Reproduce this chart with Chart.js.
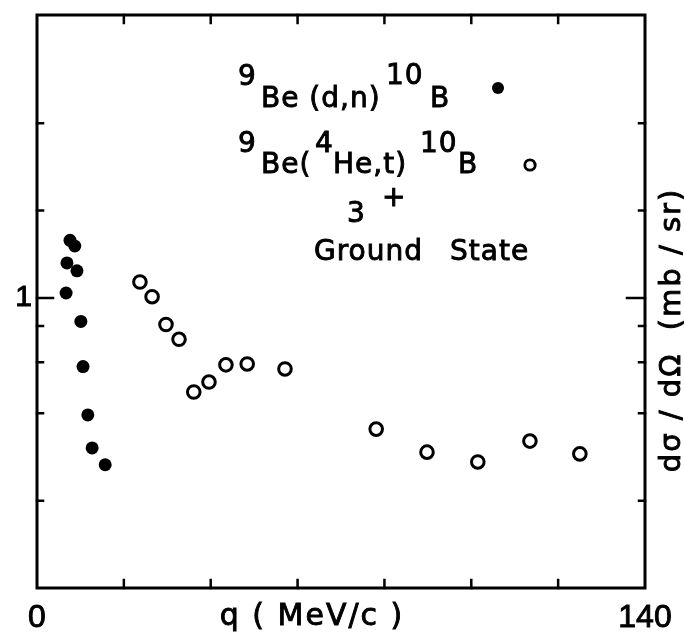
<!DOCTYPE html>
<html>
<head>
<meta charset="utf-8">
<script src="https://cdn.jsdelivr.net/npm/chart.js@4.4.0/dist/chart.umd.min.js"></script>
<style>
  body { margin: 0; background: #fff; }
  #wrap { width: 684px; height: 632px; }
</style>
</head>
<body>
<div id="wrap"><canvas id="grafik" width="684" height="632"></canvas></div>
<script>
// 9Be(d,n)10B, filled circles
const dnQ = [6.7, 6.9, 7.6, 8.7, 9.2, 10.1, 10.6, 11.7, 12.7, 15.7];
const dnSigma = [1.04, 1.32, 1.58, 1.51, 1.24, 0.83, 0.58, 0.395, 0.304, 0.266];

// 9Be(4He,t)10B, open circles
const heQ = [23.7, 26.5, 29.7, 32.7, 36.1, 39.6, 43.5, 48.4, 57.1, 78.1, 89.8, 101.5, 113.5, 125.0];
const heSigma = [1.135, 1.01, 0.81, 0.72, 0.474, 0.513, 0.588, 0.592, 0.569, 0.353, 0.294, 0.272, 0.321, 0.29];

// axes
const xTickValues = [0, 140];
const xTickLabels = ["0", "140"];
const xMarks = [20, 40, 60, 80, 100, 120];
const yTickValues = [1];
const yTickLabels = ["1"];
const yMinorMarks = [0.2, 0.4, 0.6, 0.8, 2, 4];
const yMajorMarks = [1];

const toPoints = (xs, ys) => xs.map((x, i) => ({ x: x, y: ys[i] }));

const ink = "#000";

// lettering is heavier than the plain font, so outline it a little
function put(ctx, s, x, y, font, align) {
  ctx.font = font;
  ctx.textAlign = align || "left";
  ctx.fillText(s, x, y);
  ctx.lineWidth = 0.9;
  ctx.strokeText(s, x, y);
}

const frame = {
  id: "frame",
  afterDraw(chart) {
    const ctx = chart.ctx;
    const a = chart.chartArea;
    const xs = chart.scales.x;
    const ys = chart.scales.y;
    ctx.save();
    ctx.strokeStyle = ink;
    ctx.fillStyle = ink;
    ctx.lineCap = "square";

    // box
    ctx.lineWidth = 3;
    ctx.strokeRect(a.left, a.top, a.right - a.left, a.bottom - a.top);

    // inward tick marks
    ctx.lineWidth = 2.5;
    ctx.beginPath();
    xMarks.forEach((v) => {
      const px = xs.getPixelForValue(v);
      ctx.moveTo(px, a.bottom);
      ctx.lineTo(px, a.bottom - 8);
      ctx.moveTo(px, a.top);
      ctx.lineTo(px, a.top + 8);
    });
    yMinorMarks.forEach((v) => {
      const py = ys.getPixelForValue(v);
      ctx.moveTo(a.left, py);
      ctx.lineTo(a.left + 6, py);
      ctx.moveTo(a.right, py);
      ctx.lineTo(a.right - 6, py);
    });
    yMajorMarks.forEach((v) => {
      const py = ys.getPixelForValue(v);
      ctx.moveTo(a.left, py);
      ctx.lineTo(a.left + 16, py);
      ctx.moveTo(a.right, py);
      ctx.lineTo(a.right - 18, py);
    });
    ctx.stroke();

    // tick labels
    ctx.textBaseline = "alphabetic";
    xTickValues.forEach((v, i) => {
      put(ctx, xTickLabels[i], xs.getPixelForValue(v), 627, '32px "Liberation Sans"', "center");
    });
    yTickValues.forEach((v, i) => {
      ctx.textBaseline = "middle";
      put(ctx, yTickLabels[i], 32, ys.getPixelForValue(v), '30px "Liberation Sans"', "right");
    });
    ctx.textBaseline = "alphabetic";

    // axis titles
    ctx.letterSpacing = "2px";
    put(ctx, "q ( MeV/c )", 312, 625, '30px "DejaVu Sans"', "center");
    ctx.save();
    ctx.translate(680, 330);
    ctx.rotate(-Math.PI / 2);
    ctx.letterSpacing = "2px";
    put(ctx, "d\u03c3 / d\u03a9  (mb / sr)", 0, 0, '29px "DejaVu Sans"', "center");
    ctx.restore();

    // reaction key
    const f = '28px "DejaVu Sans"';
    ctx.letterSpacing = "1px";
    put(ctx, "9", 238, 85, f);
    put(ctx, "Be (d,n)", 261, 107, f);
    put(ctx, "10", 386, 84, f);
    put(ctx, "B", 430, 107, f);

    put(ctx, "9", 238, 152, f);
    put(ctx, "Be(", 261, 173, f);
    put(ctx, "4", 315, 152, f);
    put(ctx, "He,t)", 333, 173, f);
    put(ctx, "10", 420, 152, f);
    put(ctx, "B", 458, 173, f);

    put(ctx, "3", 347, 222, f);
    put(ctx, "+", 382, 206, f);
    put(ctx, "Ground", 314, 260, f);
    put(ctx, "State", 450, 260, f);

    ctx.beginPath();
    ctx.arc(498, 88, 6, 0, Math.PI * 2);
    ctx.fill();
    ctx.beginPath();
    ctx.lineWidth = 2.8;
    ctx.arc(530, 165, 5.2, 0, Math.PI * 2);
    ctx.stroke();

    ctx.restore();
  },
};

const grafik = document.getElementById("grafik");
let chart = new Chart(grafik, {
  type: "scatter",
  data: {
    datasets: [
      {
        label: "9Be(d,n)10B",
        data: toPoints(dnQ, dnSigma),
        pointRadius: 6.5,
        pointBackgroundColor: ink,
        pointBorderWidth: 0,
      },
      {
        label: "9Be(4He,t)10B",
        data: toPoints(heQ, heSigma),
        pointRadius: 6.3,
        pointBackgroundColor: "#fff",
        pointBorderColor: ink,
        pointBorderWidth: 3,
      },
    ],
  },
  options: {
    responsive: false,
    animation: false,
    devicePixelRatio: 1,
    layout: { padding: { left: 37, right: 39, top: 15, bottom: 44 } },
    plugins: { legend: { display: false }, tooltip: { enabled: false } },
    scales: {
      x: { type: "linear", min: 0, max: 140, display: false },
      y: { type: "logarithmic", min: 0.1, max: 9.45, display: false },
    },
  },
  plugins: [frame],
});
</script>
</body>
</html>
